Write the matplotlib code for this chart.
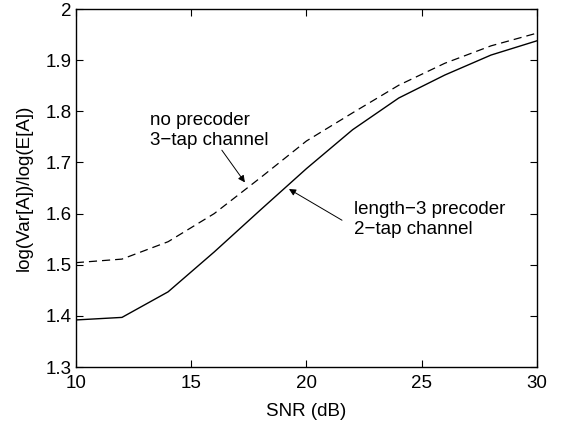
import matplotlib
matplotlib.use("Agg")
import matplotlib.pyplot as plt

plt.rcParams['font.family'] = ['Liberation Sans', 'DejaVu Sans']

# SNR in dB
snr = [10, 12, 14, 16, 18, 20, 22, 24, 26, 28, 30]
# no precoder, 3-tap channel (dashed)
no_prec = [1.504, 1.511, 1.545, 1.600, 1.670, 1.742, 1.797, 1.851, 1.894, 1.928, 1.953]
# length-3 precoder, 2-tap channel (solid)
len3_prec = [1.392, 1.397, 1.447, 1.525, 1.607, 1.688, 1.764, 1.826, 1.871, 1.910, 1.938]

FS = 13.5

fig = plt.figure(figsize=(5.66, 4.30), dpi=100)
ax = fig.add_axes([0.134, 0.1465, 0.815, 0.8325])

ax.plot(snr, no_prec, color='k', lw=0.9, linestyle=(0, (6.5, 4)))
ax.plot(snr, len3_prec, color='k', lw=1.0)

ax.set_xlim(10, 30)
ax.set_ylim(1.3, 2.0)
ax.set_xticks([10, 15, 20, 25, 30])
ax.set_yticks([1.3, 1.4, 1.5, 1.6, 1.7, 1.8, 1.9, 2.0])
ax.set_yticklabels(['1.3', '1.4', '1.5', '1.6', '1.7', '1.8', '1.9', '2'])
ax.tick_params(direction='in', top=True, right=True, length=5, width=0.8,
               labelsize=FS)
ax.tick_params(axis='x', pad=6)
ax.tick_params(axis='y', pad=3)
for s in ax.spines.values():
    s.set_linewidth(1.0)

ax.set_xlabel('SNR (dB)', fontsize=FS, labelpad=8)
ax.set_ylabel('log(Var[A])/log(E[A])', fontsize=FS, labelpad=9)

# annotations (one text per line, baseline aligned)
ax.text(13.2, 1.773, 'no precoder', fontsize=FS, va='baseline', ha='left')
ax.text(13.2, 1.734, '3\u2212tap channel', fontsize=FS, va='baseline', ha='left')
ax.annotate('', xy=(17.33, 1.661), xytext=(16.33, 1.724),
            arrowprops=dict(arrowstyle='-|>', color='k', lw=0.7,
                            mutation_scale=10, shrinkA=0, shrinkB=0))

ax.text(22.06, 1.599, 'length\u22123 precoder', fontsize=FS, va='baseline', ha='left')
ax.text(22.06, 1.560, '2\u2212tap channel', fontsize=FS, va='baseline', ha='left')
ax.annotate('', xy=(19.24, 1.648), xytext=(21.54, 1.587),
            arrowprops=dict(arrowstyle='-|>', color='k', lw=0.7,
                            mutation_scale=10, shrinkA=0, shrinkB=0))

fig.savefig('out.png', dpi=100)
